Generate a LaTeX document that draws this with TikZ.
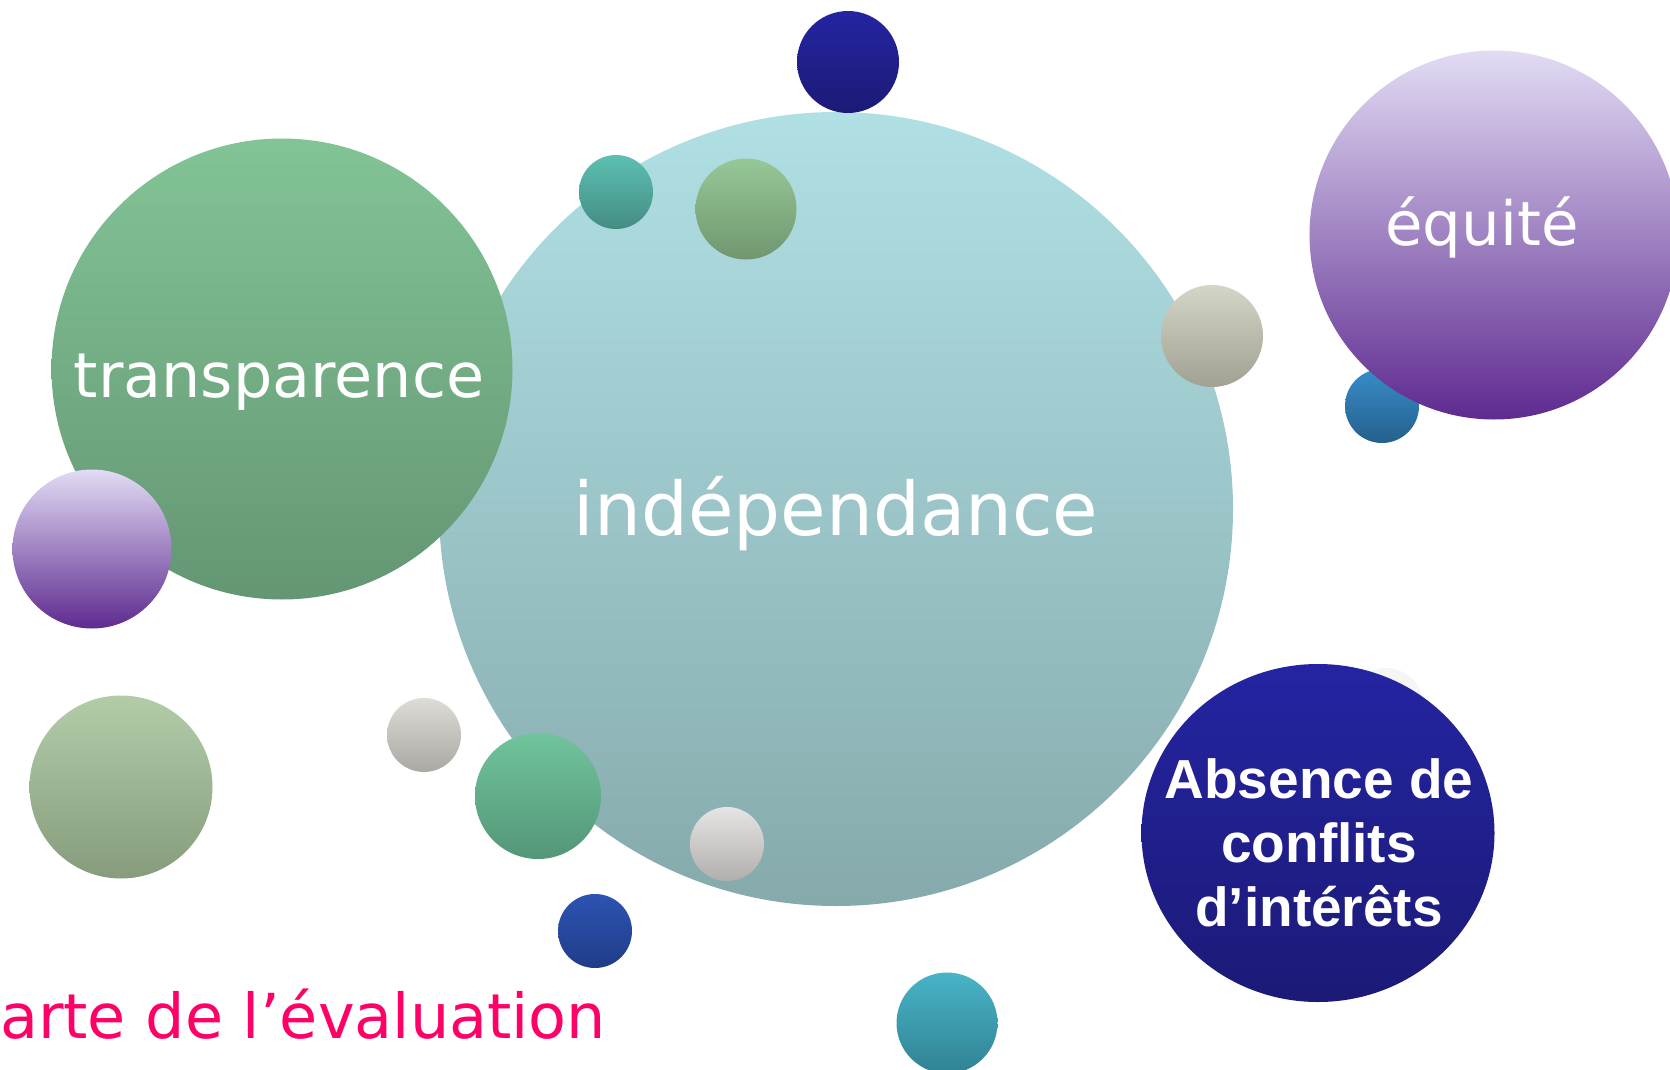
\documentclass[tikz,border=0pt]{standalone}
\usepackage{fontspec}
\setmainfont{DejaVu Sans}
\newfontfamily\boldface{Liberation Sans}
\usetikzlibrary{calc,shapes.geometric}
\definecolor{indtop}{RGB}{176,224,228}
\definecolor{indbot}{RGB}{134,170,172}
\definecolor{trtop}{RGB}{130,196,150}
\definecolor{trbot}{RGB}{100,150,115}
\definecolor{mauvetop}{RGB}{226,220,244}
\definecolor{mauvemid}{RGB}{160,120,202}
\definecolor{mauvebot}{RGB}{94,42,144}
\definecolor{navytop}{RGB}{36,36,162}
\definecolor{navybot}{RGB}{28,26,118}
\definecolor{aquatop}{RGB}{92,192,178}
\definecolor{aquabot}{RGB}{68,140,130}
\definecolor{sagetop}{RGB}{150,200,150}
\definecolor{sagebot}{RGB}{112,150,112}
\definecolor{stonetop}{RGB}{212,214,198}
\definecolor{stonebot}{RGB}{160,160,148}
\definecolor{skytop}{RGB}{56,140,200}
\definecolor{skybot}{RGB}{36,96,140}
\definecolor{greytop}{RGB}{222,220,214}
\definecolor{greybot}{RGB}{170,168,162}
\definecolor{mintop}{RGB}{112,196,156}
\definecolor{minbot}{RGB}{84,150,120}
\definecolor{pearltop}{RGB}{230,228,228}
\definecolor{pearlbot}{RGB}{178,174,172}
\definecolor{cobtop}{RGB}{44,84,178}
\definecolor{cobbot}{RGB}{32,60,136}
\definecolor{lagtop}{RGB}{72,180,198}
\definecolor{lagbot}{RGB}{48,130,148}
\definecolor{olivtop}{RGB}{178,204,168}
\definecolor{olivbot}{RGB}{134,156,124}
\definecolor{charte}{RGB}{255,0,102}

\begin{document}
\begin{tikzpicture}[x=1pt, y=-1pt,
    bubble/.style={circle, inner sep=0pt, minimum size=#1},
    grad/.style 2 args={top color=#1, bottom color=#2},
    word/.style={text=white, anchor=base, inner sep=0pt}]
    \useasboundingbox (0,0) rectangle (1670,1070);
    \clip (0,0) rectangle (1670,1070);

    % back row
    \node[bubble=74pt, fill=gray!8] (ghost) at (1386,705) {};
    \node[bubble=74pt, grad={skytop}{skybot}] (sky) at (1382,406) {};

    % big bubbles
    \node[bubble=794pt, grad={indtop}{indbot}] (indep) at (836,509) {};
    \node[bubble=461pt, grad={trtop}{trbot}] (transp) at (282,369) {};
    \node[bubble=159pt, top color=mauvetop, middle color=mauvemid, bottom color=mauvebot] (mauve) at (92,549) {};
    \node[bubble=369pt, top color=mauvetop, middle color=mauvemid, bottom color=mauvebot] (equite) at (1494,235) {};
    \node[ellipse, inner sep=0pt, minimum width=353pt, minimum height=338pt, grad={navytop}{navybot}] (absence) at (1318,833) {};

    % small bubbles
    \node[bubble=102pt, grad={navytop}{navybot}] (navy) at (848,62) {};
    \node[bubble=74pt, grad={aquatop}{aquabot}] (aqua) at (616,192) {};
    \node[bubble=101pt, grad={sagetop}{sagebot}] (sage) at (746,209) {};
    \node[bubble=102pt, grad={stonetop}{stonebot}] (stone) at (1212,336) {};
    \node[bubble=74pt, grad={greytop}{greybot}] (grey) at (424,735) {};
    \node[bubble=126pt, grad={mintop}{minbot}] (mint) at (538,796) {};
    \node[bubble=74pt, grad={pearltop}{pearlbot}] (pearl) at (727,844) {};
    \node[bubble=74pt, grad={cobtop}{cobbot}] (cobalt) at (595,931) {};
    \node[bubble=101pt, grad={lagtop}{lagbot}] (lagoon) at (947,1023) {};
    \node[bubble=183pt, grad={olivtop}{olivbot}] (olive) at (121,787) {};

    % labels
    \node[word, font=\fontsize{74}{90}\selectfont] (indeplbl) at ($(indep)+(0,26)$) {indépendance};
    \node[word, font=\fontsize{62}{80}\selectfont] (transplbl) at ($(transp)+(-3,28)$) {transparence};
    \node[word, font=\fontsize{61}{76}\selectfont] (equitelbl) at ($(equite)+(-12,10)$) {équité};
    \node[text=white, inner sep=0pt, align=center, font=\boldface\bfseries\fontsize{55}{64}\selectfont] (absencelbl) at ($(absence)+(1,10)$) {Absence de\\conflits\\d’intérêts};
    \node[anchor=base west, inner sep=0pt, text=charte, font=\fontsize{62}{80}\selectfont] (chartelbl) at (0,1038) {arte de l’évaluation};
\end{tikzpicture}
\end{document}
